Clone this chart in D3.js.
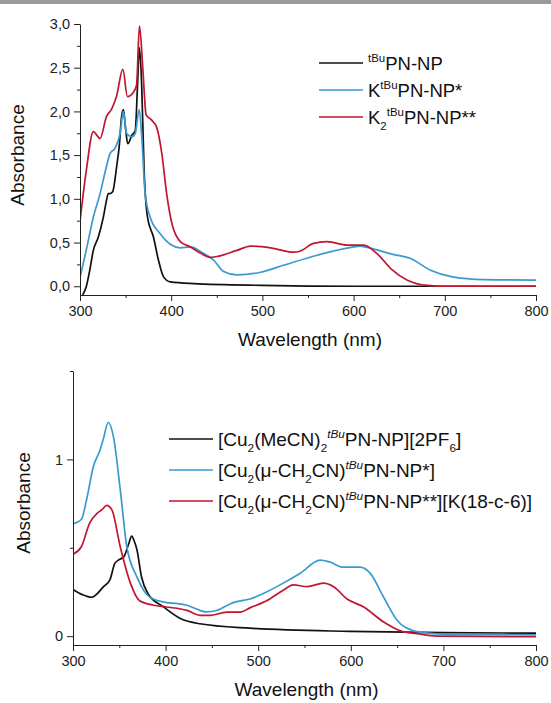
<!DOCTYPE html>
<html lang="en">
	<head>
		<meta charset="utf-8">
		<script type="text/javascript" src="https://d3js.org/d3.v7.min.js"></script>
		<style type="text/css">
			body { margin:0; background:#fff; }
			.axis text { font-family:"Liberation Sans", Arial, sans-serif; font-size:14.5px; fill:#222; }
			.axis path, .axis line { stroke:#222; stroke-width:1; }
			.title { font-family:"Liberation Sans", Arial, sans-serif; font-size:19px; fill:#111; }
			.legend { font-family:"Liberation Sans", Arial, sans-serif; fill:#111; }
		</style>
	</head>
	<body>
		<script type="text/javascript">

			var w = 551, h = 703;

			//Tick labels
			var xTicks = [300, 400, 500, 600, 700, 800];
			var xMinor = [350, 450, 550, 650, 750];
			var topYTicks = [0, 0.5, 1, 1.5, 2, 2.5, 3];
			var topYMinor = [0.25, 0.75, 1.25, 1.75, 2.25, 2.75];
			var botYTicks = [0, 1];
			var botYMinor = [0.5, 1.5];

			//Top panel spectra [wavelength nm, absorbance]
			var ligand = [[303,-0.1],[307,0.0],[311,0.2],[314.6,0.41],[320,0.56],[325.6,0.79],[329,0.98],[331,1.06],[333,1.06],[335.8,1.08],[340.2,1.37],[343,1.6],[345.6,1.94],[347.6,2.02],[350,1.8],[352.4,1.63],[357,1.73],[360.6,1.78],[363,2.28],[365.2,2.73],[367.7,2.28],[370.3,1.33],[374,0.79],[380.6,0.56],[386,0.3],[391.5,0.11],[399,0.05],[425,0.03],[500,0.01],[600,0.0],[800,0.0]];
			var ligandK = [[300,0.1],[307,0.42],[314.6,0.79],[322,1.06],[329,1.37],[333,1.52],[338.5,1.58],[344,1.75],[347.6,2.0],[351,1.75],[357,1.71],[360.6,1.75],[365,2.02],[367.7,1.71],[371.4,1.06],[377,0.79],[388,0.6],[399,0.48],[410,0.44],[421,0.45],[435,0.38],[446.5,0.3],[457.5,0.17],[472,0.13],[498,0.16],[523,0.24],[560,0.355],[600,0.45],[607,0.46],[620,0.43],[641,0.37],[662,0.32],[685,0.18],[707,0.11],[743,0.076],[800,0.07]];
			var ligandK2 = [[300,0.74],[307,1.33],[314.6,1.77],[322,1.69],[329,1.94],[334.8,2.03],[340,2.17],[347,2.48],[352,2.17],[358.6,2.22],[362,2.3],[365.2,2.98],[369,2.47],[372.5,1.96],[378.6,1.9],[384,1.82],[389.7,1.52],[395,1.06],[400.7,0.72],[410,0.51],[421,0.45],[432,0.38],[443,0.33],[450,0.34],[472,0.41],[487,0.46],[509,0.44],[534,0.39],[541,0.40],[556,0.49],[571,0.51],[593,0.47],[611,0.47],[626,0.37],[641,0.20],[659,0.07],[681,0.01],[700,0.0],[800,0.0]];

			//Bottom panel spectra
			var cuMeCN = [[300,0.264],[310,0.235],[320,0.22],[333,0.28],[340,0.32],[345,0.41],[349,0.43],[355,0.45],[360,0.52],[363.4,0.566],[366,0.54],[369,0.49],[374,0.335],[381,0.24],[398,0.165],[416,0.1],[437,0.07],[491,0.045],[599,0.027],[700,0.02],[800,0.017]];
			var cuCH2CN = [[300,0.635],[309,0.66],[315,0.78],[322,0.96],[329,1.05],[333,1.12],[338,1.21],[343.6,1.13],[351,0.83],[358,0.51],[369,0.335],[383,0.22],[401,0.19],[412,0.185],[423,0.175],[437,0.146],[444.5,0.137],[455,0.145],[473,0.19],[491,0.21],[509,0.25],[527,0.30],[545,0.355],[567,0.43],[577,0.42],[592,0.39],[610,0.39],[621,0.355],[635.5,0.22],[650,0.09],[668,0.03],[678,0.02],[707,0.01],[800,0.008]];
			var cuCH2CNK = [[300,0.464],[309,0.506],[318,0.64],[326,0.695],[331,0.714],[336.4,0.74],[342,0.714],[351,0.506],[362,0.3],[372,0.2],[387,0.175],[401,0.165],[423,0.146],[437,0.118],[448,0.118],[466,0.136],[480.5,0.136],[491,0.16],[509,0.2],[527,0.26],[538,0.29],[553,0.28],[570.5,0.30],[581.5,0.28],[596,0.21],[614,0.165],[635.5,0.08],[653.5,0.03],[671.5,0.014],[693,0.0],[800,-0.003]];

			//Legend labels: [text, "" | "sub" | "sup" | "supi" (italic sup)]
			var topLabels = [
				[["tBu","sup"],["PN-NP",""]],
				[["K",""],["tBu","sup"],["PN-NP*",""]],
				[["K",""],["2","sub"],["tBu","sup"],["PN-NP**",""]]
			];
			var botLabels = [
				[["[Cu",""],["2","sub"],["(MeCN)",""],["2","sub"],["tBu","supi"],["PN-NP][2PF",""],["6","sub"],["]",""]],
				[["[Cu",""],["2","sub"],["(\u03bc-CH",""],["2","sub"],["CN)",""],["tBu","supi"],["PN-NP*]",""]],
				[["[Cu",""],["2","sub"],["(\u03bc-CH",""],["2","sub"],["CN)",""],["tBu","supi"],["PN-NP**][K(18-c-6)]",""]]
			];

			var colors = ["#111111", "#3a9ad0", "#c0162f"];

			var svg = d3.select("body")
						.append("svg")
						.attr("width", w)
						.attr("height", h);

			//gray strip at the top
			svg.append("rect").attr("x", 0).attr("y", 0).attr("width", w).attr("height", 4).attr("fill", "#9a9a9a");

			var commaFmt = function(d) { return d3.format(".1f")(d).replace(".", ","); };

			function panel(opt) {
				var xScale = d3.scaleLinear().domain([300, 800]).range([opt.x0, opt.x1]);
				var yScale = d3.scaleLinear().domain(opt.yDomain).range([opt.yBottom, opt.yTop]);

				var g = svg.append("g");

				var clipId = "clip" + opt.id;
				g.append("clipPath").attr("id", clipId)
					.append("rect")
					.attr("x", opt.x0).attr("y", opt.yTop - 10)
					.attr("width", opt.x1 - opt.x0 + 2).attr("height", opt.yBottom - opt.yTop + 10);

				var line = d3.line()
					.x(function(d) { return xScale(d[0]); })
					.y(function(d) { return yScale(d[1]); })
					.curve(d3.curveMonotoneX);

				g.append("g").attr("clip-path", "url(#" + clipId + ")")
					.selectAll("path")
					.data(opt.series)
					.enter()
					.append("path")
					.attr("d", line)
					.attr("fill", "none")
					.attr("stroke", function(d, i) { return colors[i]; })
					.attr("stroke-width", 1.7)
					.attr("stroke-linejoin", "round");

				//X axis (major + minor)
				g.append("g").attr("class", "axis")
					.attr("transform", "translate(0," + opt.yBottom + ")")
					.call(d3.axisBottom(xScale).tickValues(xTicks).tickSize(6).tickSizeOuter(0).tickPadding(5));
				g.append("g").attr("class", "axis")
					.attr("transform", "translate(0," + opt.yBottom + ")")
					.call(d3.axisBottom(xScale).tickValues(xMinor).tickSize(3).tickSizeOuter(0).tickFormat(""))
					.select(".domain").remove();

				//Y axis (major + minor)
				g.append("g").attr("class", "axis")
					.attr("transform", "translate(" + opt.x0 + ",0)")
					.call(d3.axisLeft(yScale).tickValues(opt.yTicks).tickSize(6).tickSizeOuter(0).tickPadding(4).tickFormat(opt.yFormat));
				g.append("g").attr("class", "axis")
					.attr("transform", "translate(" + opt.x0 + ",0)")
					.call(d3.axisLeft(yScale).tickValues(opt.yMinor).tickSize(3).tickSizeOuter(0).tickFormat(""))
					.select(".domain").remove();

				//Axis titles
				g.append("text").attr("class", "title")
					.attr("x", (opt.x0 + opt.x1) / 2 + 2)
					.attr("y", opt.yBottom + 51)
					.attr("text-anchor", "middle")
					.text("Wavelength (nm)");
				g.append("text").attr("class", "title")
					.attr("transform", "translate(" + opt.yTitleX + "," + opt.yTitleY + ") rotate(-90)")
					.attr("text-anchor", "middle")
					.text("Absorbance");

				//Legend
				opt.labels.forEach(function(segs, i) {
					var ly = opt.legY + i * opt.legStep;
					g.append("line")
						.attr("x1", opt.legX).attr("x2", opt.legX + 44)
						.attr("y1", ly).attr("y2", ly)
						.attr("stroke", colors[i]).attr("stroke-width", 1.7);
					var t = g.append("text").attr("class", "legend")
						.attr("x", opt.legX + 49)
						.attr("y", ly + opt.legSize * 0.36)
						.style("font-size", opt.legSize + "px");
					var cur = 0;
					segs.forEach(function(s) {
						var target = 0, size = opt.legSize, italic = false;
						if (s[1] === "sub") { target = opt.legSize * 0.33; size = opt.legSize * 0.62; }
						if (s[1] === "sup" || s[1] === "supi") { target = -opt.legSize * 0.42; size = opt.legSize * 0.62; }
						if (s[1] === "supi") italic = true;
						var ts = t.append("tspan")
							.attr("dy", target - cur)
							.style("font-size", size + "px")
							.text(s[0]);
						if (italic) ts.style("font-style", "italic");
						cur = target;
					});
				});
			}

			panel({
				id: "top", x0: 80, x1: 536, yTop: 24, yBottom: 295,
				yDomain: [-0.1, 3.0], yTicks: topYTicks, yMinor: topYMinor, yFormat: commaFmt,
				series: [ligand, ligandK, ligandK2],
				yTitleX: 24, yTitleY: 155,
				labels: topLabels, legX: 319, legY: 63, legStep: 27, legSize: 18.5
			});

			panel({
				id: "bot", x0: 73, x1: 536, yTop: 371, yBottom: 645,
				yDomain: [-0.05, 1.5], yTicks: botYTicks, yMinor: botYMinor, yFormat: d3.format("d"),
				series: [cuMeCN, cuCH2CN, cuCH2CNK],
				yTitleX: 30, yTitleY: 503,
				labels: botLabels, legX: 169, legY: 439, legStep: 31, legSize: 19
			});

		</script>
	</body>
</html>
